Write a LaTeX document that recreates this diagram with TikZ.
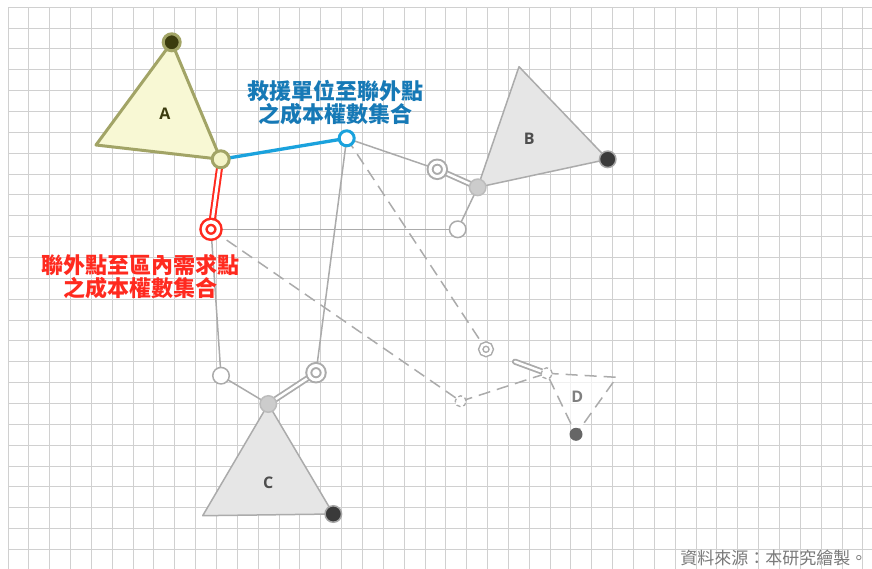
\documentclass[tikz,border=0pt]{standalone}
\usepackage{fontspec}
\newfontfamily\cjk{Noto Sans CJK TC}
\newfontfamily\latinsans{Open Sans}
\definecolor{gridc}{HTML}{D0D0D0}
\definecolor{lgrey}{HTML}{ABABAB}
\definecolor{olive}{HTML}{A2A466}
\definecolor{afill}{HTML}{F8F8D4}
\definecolor{adark}{HTML}{3C3C0E}
\definecolor{alight}{HTML}{F4F4C8}
\definecolor{bluel}{HTML}{1AA2DD}
\definecolor{bluet}{HTML}{1679B6}
\definecolor{redc}{HTML}{FF2A1F}
\definecolor{tfill}{HTML}{E6E6E6}
\definecolor{darkc}{HTML}{3A3A3A}
\definecolor{srcc}{HTML}{7A7A7A}
\tikzset{
  gridline/.style={draw=gridc, line width=1pt},
  gline/.style={draw=lgrey, line width=1.5pt},
  gdash/.style={gline, dash pattern=on 12pt off 7pt},
  gbar/.style={draw=lgrey, line width=1.8pt, double=white, double distance=2.5pt, line cap=round},
  rbar/.style={draw=redc, line width=2pt, double=white, double distance=3pt, line cap=round},
  tri/.style={draw=lgrey, line width=1.5pt, fill=tfill, line join=round},
  dot/.style={circle, inner sep=0pt},
  wcirc/.style={dot, draw=lgrey, line width=1.5pt, fill=white, minimum size=16.5pt},
  ring/.style={dot, draw=lgrey, line width=2pt, double=white, double distance=3pt, fill=white, minimum size=14.4pt},
  sring/.style={dot, draw=lgrey, line width=1.5pt, double=white, double distance=2.5pt, fill=white, minimum size=10.5pt},
  gcirc/.style={dot, draw=lgrey!80, line width=1.5pt, fill=gray!40, minimum size=16.5pt},
  dcirc/.style={dot, draw=gray!70, line width=1.5pt, fill=darkc, minimum size=16.5pt},
  dshcirc/.style={dot, draw=lgrey, line width=1.3pt, dash pattern=on 4pt off 3pt, fill=white, minimum size=11pt},
  lbl/.style={font=\latinsans\bfseries\fontsize{16}{18}\selectfont},
  ctext/.style={align=center, font=\cjk\bfseries\fontsize{22}{23}\selectfont},
}
\begin{document}
\begin{tikzpicture}[x=1pt,y=-1pt]
\useasboundingbox (0,0) rectangle (872,569);
\fill[white] (0,0) rectangle (872,569);
% grid
\foreach \i in {0,...,41} \draw[gridline] ({8+20.85*\i},7.3) -- ({8+20.85*\i},569);
\foreach \j in {0,...,26} \draw[gridline] (8,{7.3+20.85*\j}) -- (872,{7.3+20.85*\j});
% coordinates
\coordinate (A1) at (171.7,42.3);
\coordinate (A2) at (96,145);
\coordinate (A3) at (220.7,159.3);
\coordinate (B1) at (519,66.7);
\coordinate (B2) at (607.7,159.3);
\coordinate (B3) at (477.7,187.3);
\coordinate (C1) at (268.3,404);
\coordinate (C2) at (202.7,515.7);
\coordinate (C3) at (333.3,514);
\coordinate (D1) at (546.7,373.3);
\coordinate (D2) at (616.7,377.3);
\coordinate (D3) at (576,434.3);
\coordinate (P) at (346.7,138.3);
\coordinate (R) at (211,229.3);
\coordinate (Q1) at (437.3,169.3);
\coordinate (W1) at (457.7,229.3);
\coordinate (S1) at (486,349.3);
\coordinate (Q2) at (316,372.7);
\coordinate (W2) at (221,375.7);
\coordinate (E1) at (460.7,401.3);
\coordinate (F) at (515,361.7);
% triangles
\draw[draw=olive, line width=3pt, fill=afill, line join=round] (A1) -- (A2) -- (A3) -- cycle;
\draw[tri] (B1) -- (B2) -- (B3) -- cycle;
\draw[tri] (C1) -- (C2) -- (C3) -- cycle;
\draw[draw=lgrey, line width=1.5pt, dash pattern=on 12pt off 7pt, fill=white, fill opacity=0.7] (D1) -- (D2) -- (D3) -- cycle;
% connectors
\draw[gline] (P) -- (Q1);
\draw[gline] (B3) -- (W1);
\draw[gline] (W1) -- (R);
\draw[gdash] (P) -- (S1);
\draw[gline] (P) -- (Q2);
\draw[gline] (R) -- (W2);
\draw[gdash] (R) -- (E1);
\draw[gdash] (E1) -- (D1);
\draw[gline] (W2) -- (C1);
\draw[gbar] (B3) -- (Q1);
\draw[gbar] (C1) -- (Q2);
\draw[gbar] (F) -- (D1);
\draw[draw=bluel, line width=3.3pt] (A3) -- (P);
\draw[rbar] (A3) -- (R);
% nodes
\node[dot, draw=olive, line width=3pt, fill=adark, minimum size=17pt] (nA1) at (A1) {};
\node[dot, draw=olive, line width=3pt, fill=alight, minimum size=17pt] (nA3) at (A3) {};
\node[dcirc] (nB2) at (B2) {};
\node[gcirc] (nB3) at (B3) {};
\node[gcirc] (nC1) at (C1) {};
\node[dcirc] (nC3) at (C3) {};
\node[dot, fill=gray!80!black, minimum size=13pt] (nD3) at (D3) {};
\node[dshcirc] (nD1) at (D1) {};
\node[dshcirc] (nE1) at (E1) {};
\node[dot, draw=bluel, line width=3pt, fill=white, minimum size=15pt] (nP) at (P) {};
\node[dot, draw=redc, line width=2.5pt, double=white, double distance=3.5pt, fill=white, minimum size=14.9pt] (nR) at (R) {};
\node[ring] (nQ1) at (Q1) {};
\node[ring] (nQ2) at (Q2) {};
\node[sring] (nS1) at (S1) {};
\node[wcirc] (nW1) at (W1) {};
\node[wcirc] (nW2) at (W2) {};
% labels
\node[lbl, text=adark] (lA) at (165,114) {A};
\node[lbl, text=darkc!90] (lB) at (529.3,139) {B};
\node[lbl, text=darkc!90] (lC) at (268.3,482.7) {C};
\node[lbl, text=gray] (lD) at (577.3,396.7) {D};
\node[ctext, text=bluet] (tb) at (335,103) {救援單位至聯外點\\之成本權數集合};
\node[ctext, text=redc] (tr) at (140,276.5) {聯外點至區內需求點\\之成本權數集合};
\node[anchor=east, text=srcc, font=\cjk\fontsize{17}{19}\selectfont] (src) at (871,558) {資料來源：本研究繪製。};
\end{tikzpicture}
\end{document}
